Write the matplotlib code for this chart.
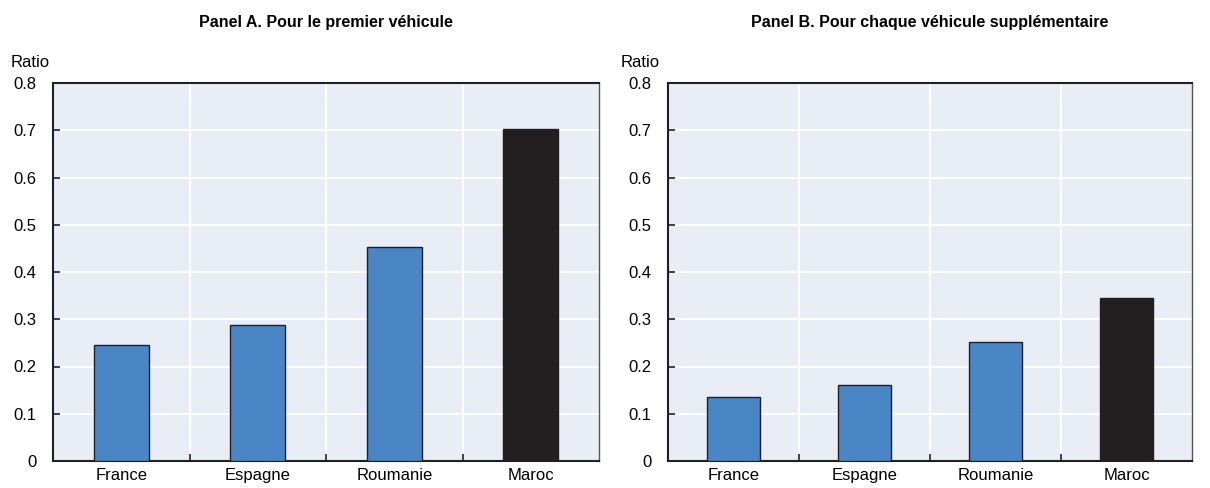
import matplotlib
matplotlib.use("Agg")
import matplotlib.pyplot as plt
from matplotlib.ticker import FixedLocator

plt.rcParams['font.family'] = ['Liberation Sans', 'DejaVu Sans']

countries = ["France", "Espagne", "Roumanie", "Maroc"]
panel_a = [0.245, 0.288, 0.453, 0.703]
panel_b = [0.135, 0.161, 0.252, 0.345]
titles = ["Panel A. Pour le premier véhicule",
          "Panel B. Pour chaque véhicule supplémentaire"]
yticks = [0, 0.1, 0.2, 0.3, 0.4, 0.5, 0.6, 0.7, 0.8]
ylabels = ["0", "0.1", "0.2", "0.3", "0.4", "0.5", "0.6", "0.7", "0.8"]

blue = "#4a86c5"
dark = "#231f20"
bg = "#e8edf6"
colors = [blue, blue, blue, dark]

fig = plt.figure(figsize=(12.1, 4.88), dpi=100)
axes = [fig.add_axes([53 / 1210, 27 / 488, 546 / 1210, 378 / 488]),
        fig.add_axes([668 / 1210, 27 / 488, 524 / 1210, 378 / 488])]

for ax, vals, title in zip(axes, [panel_a, panel_b], titles):
    x = range(len(countries))
    ax.set_facecolor(bg)
    ax.bar(x, vals, width=0.4, color=colors, edgecolor=dark, linewidth=1, zorder=3)
    ax.set_xlim(-0.5, len(countries) - 0.5)
    ax.set_ylim(0, 0.8)
    ax.set_yticks(yticks)
    ax.set_yticklabels(ylabels)
    ax.set_xticks(list(x))
    ax.set_xticklabels(countries, fontsize=12)
    ax.xaxis.set_minor_locator(FixedLocator([0.5, 1.5, 2.5]))
    ax.tick_params(axis="x", which="major", length=0, pad=5)
    ax.tick_params(axis="x", which="minor", direction="in", length=5, width=1.2, color=dark)
    ax.tick_params(axis="y", direction="in", length=5, width=1.2, color=dark, labelsize=12, pad=12)
    ax.grid(axis="y", color="white", linewidth=1.5, zorder=1)
    ax.grid(axis="x", which="minor", color="white", linewidth=1.5, zorder=1)
    for s in ["left", "bottom", "top"]:
        ax.spines[s].set_color(dark)
        ax.spines[s].set_linewidth(1.5)
    ax.spines["right"].set_color("#555555")
    ax.spines["right"].set_linewidth(1)
    # title centred over the axes, placed in figure pixels
    bbox = ax.get_position()
    fig.text((bbox.x0 + bbox.x1) / 2, 1 - 22 / 488, title, fontsize=11.5,
             fontweight="bold", ha="center", va="center")
    ax.text(-0.078 if ax is axes[0] else -0.09, 1.035, "Ratio", transform=ax.transAxes,
            fontsize=12, ha="left", va="bottom")

fig.savefig("out.png", dpi=100)
